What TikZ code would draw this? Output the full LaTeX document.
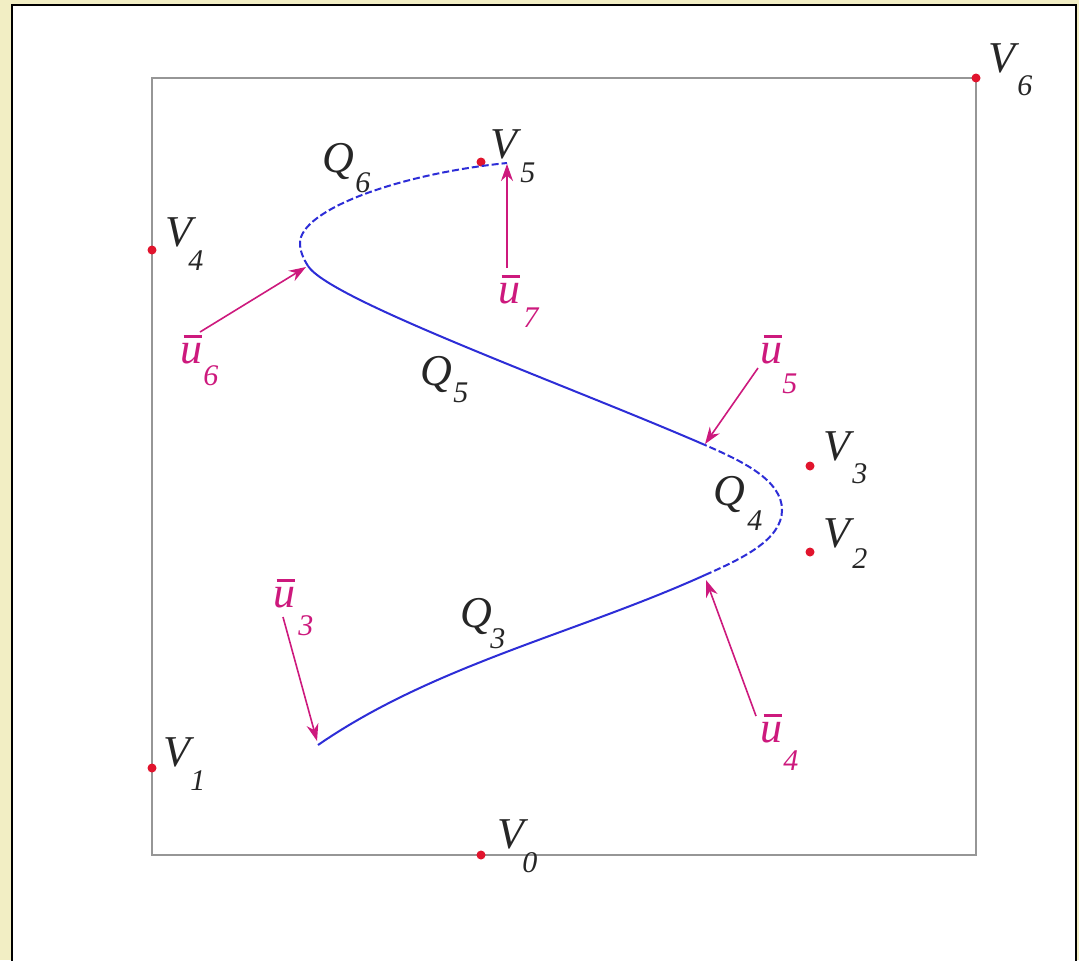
\documentclass[tikz,border=0pt]{standalone}
\usepackage{fontspec}
\setmainfont{Liberation Serif}
\usetikzlibrary{arrows.meta}
\definecolor{bgy}{RGB}{242,238,196}
\definecolor{frame}{RGB}{150,150,150}
\definecolor{curveblue}{RGB}{45,45,215}
\definecolor{mag}{RGB}{205,25,125}
\definecolor{dotred}{RGB}{225,20,45}
\newcommand{\ubarlab}{\makebox[0pt][l]{\kern1.6pt\raisebox{12.6pt}{\rule{9pt}{1.3pt}}}u}
\tikzset{
  lab/.style={inner sep=0pt, anchor=base west, font=\fontsize{22}{22}\selectfont\itshape, text=black!85},
  sub/.style={inner sep=0pt, anchor=base west, font=\fontsize{15}{15}\selectfont\itshape, text=black!85},
  ulab/.style={lab, text=mag},
  usub/.style={sub, text=mag},
  vdot/.style={circle, fill=dotred, inner sep=0pt, minimum size=4.5pt},
  curve/.style={draw=curveblue, line width=1pt},
  dcurve/.style={curve, dash pattern=on 3.5pt off 1.5pt},
  uarrow/.style={draw=mag, line width=0.8pt, -{Stealth[length=8.5pt,width=6pt]}},
}
\begin{document}
\begin{tikzpicture}[x=0.5pt,y=-0.5pt]
\useasboundingbox (0,0) rectangle (1079,960);
\fill[bgy] (0,0) rectangle (1079,960);
\begin{scope}
\clip (0,0) rectangle (1079,960);
\draw[fill=white, line width=1.2pt] (12,5) rectangle (1076,980);
\end{scope}
% frame
\draw[frame, line width=1pt] (152,78) rectangle (976,855);
% vertices
\node[vdot] (v0) at (481,855) {};
\node[vdot] (v1) at (152,768) {};
\node[vdot] (v2) at (810,552) {};
\node[vdot] (v3) at (810,466) {};
\node[vdot] (v4) at (152,250) {};
\node[vdot] (v5) at (481,162) {};
\node[vdot] (v6) at (976,78) {};
% curve points
\coordinate (p0) at (318,745);
\coordinate (p3) at (705,575);
\coordinate (p5) at (782,510);
\coordinate (p7) at (705,445);
\coordinate (p10) at (308,266);
\coordinate (p11) at (300,243);
\coordinate (p14) at (507,163);
\draw[curve] (p0) .. controls (434,665) and (577,633) .. (p3);
\draw[dcurve] (p3) .. controls (741,559) and (782,540) .. (p5)
   .. controls (782,480) and (742,461) .. (p7);
\draw[curve] (p7) .. controls (567,385) and (330,300) .. (p10);
\draw[dcurve] (p10) .. controls (303,258) and (300,251) .. (p11)
   .. controls (300,210) and (398,174) .. (p14);
% arrows
\coordinate (t3) at (283,617);  \coordinate (h3) at (317,741);
\coordinate (t4) at (756,716);  \coordinate (h4) at (706,580);
\coordinate (t5) at (758,368);  \coordinate (h5) at (705,444);
\coordinate (t6) at (200,332);  \coordinate (h6) at (306,267);
\coordinate (t7) at (507,268);  \coordinate (h7) at (507,164);
\draw[uarrow] (t3) -- (h3);
\draw[uarrow] (t4) -- (h4);
\draw[uarrow] (t5) -- (h5);
\draw[uarrow] (t6) -- (h6);
\draw[uarrow] (t7) -- (h7);
% vertex labels
\node[lab] (lv0) at (497,848) {V};  \node[sub] (sv0) at (522,872) {0};
\node[lab] (lv1) at (163,766) {V};  \node[sub] (sv1) at (190,790) {1};
\node[lab] (lv2) at (823,547) {V};  \node[sub] (sv2) at (852,568) {2};
\node[lab] (lv3) at (823,460) {V};  \node[sub] (sv3) at (852,483) {3};
\node[lab] (lv4) at (165,246) {V};  \node[sub] (sv4) at (188,270) {4};
\node[lab] (lv5) at (490,158) {V};  \node[sub] (sv5) at (520,182) {5};
\node[lab] (lv6) at (988,72) {V};   \node[sub] (sv6) at (1017,95) {6};
% Q labels
\node[lab] (lq6) at (322,172) {Q};  \node[sub] (sq6) at (355,192) {6};
\node[lab] (lq5) at (420,385) {Q};  \node[sub] (sq5) at (453,402) {5};
\node[lab] (lq4) at (713,505) {Q};  \node[sub] (sq4) at (747,530) {4};
\node[lab] (lq3) at (460,627) {Q};  \node[sub] (sq3) at (490,648) {3};
% u labels
\node[ulab] (lu6) at (180,363) {\ubarlab};  \node[usub] (su6) at (203,385) {6};
\node[ulab] (lu7) at (498,303) {\ubarlab};  \node[usub] (su7) at (523,327) {7};
\node[ulab] (lu5) at (760,363) {\ubarlab};  \node[usub] (su5) at (782,393) {5};
\node[ulab] (lu4) at (760,742) {\ubarlab};  \node[usub] (su4) at (783,770) {4};
\node[ulab] (lu3) at (273,607) {\ubarlab};  \node[usub] (su3) at (298,635) {3};
\end{tikzpicture}
\end{document}
